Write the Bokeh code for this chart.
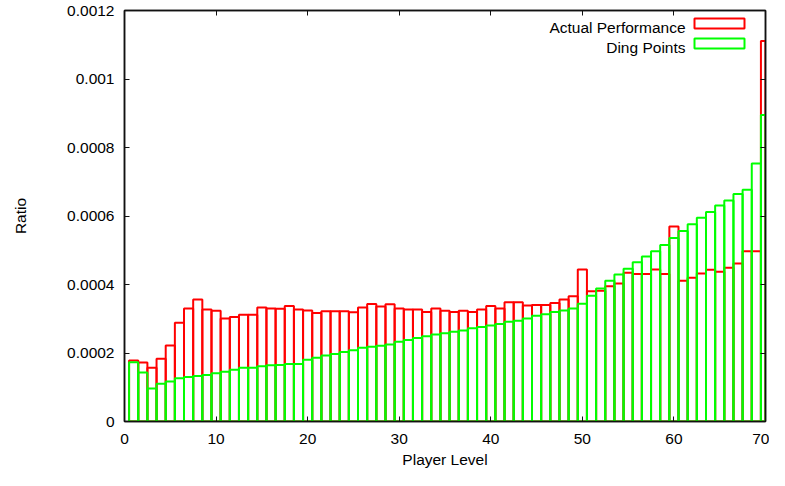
from bokeh.plotting import figure
from bokeh.models import (Range1d, LinearAxis, FixedTicker, CustomJSTickFormatter,
                          BoxAnnotation, Label, ColumnDataSource)
from bokeh.embed import file_html
from bokeh.resources import INLINE

# ---- data ----
levels = list(range(1, 71))
actual = [
    0.000178, 0.000172, 0.000157, 0.000183, 0.000222, 0.000288, 0.000330, 0.000356, 0.000327, 0.000323,
    0.000301, 0.000305, 0.000312, 0.000312, 0.000333, 0.000330, 0.000329, 0.000337, 0.000327, 0.000324,
    0.000317, 0.000322, 0.000322, 0.000322, 0.000319, 0.000333, 0.000343, 0.000336, 0.000342, 0.000330,
    0.000327, 0.000327, 0.000320, 0.000330, 0.000323, 0.000320, 0.000323, 0.000320, 0.000327, 0.000337,
    0.000330, 0.000348, 0.000348, 0.000339, 0.000340, 0.000340, 0.000346, 0.000356, 0.000366, 0.000444,
    0.000380, 0.000382, 0.000395, 0.000403, 0.000434, 0.000431, 0.000431, 0.000444, 0.000431, 0.000569,
    0.000411, 0.000420, 0.000432, 0.000443, 0.000437, 0.000449, 0.000461, 0.000497, 0.000497, 0.001111,
]
ding = [
    0.000173, 0.000143, 0.000096, 0.000110, 0.000117, 0.000126, 0.000130, 0.000133, 0.000136, 0.000141,
    0.000145, 0.000151, 0.000157, 0.000157, 0.000161, 0.000164, 0.000165, 0.000168, 0.000168, 0.000180,
    0.000186, 0.000193, 0.000197, 0.000203, 0.000208, 0.000215, 0.000218, 0.000221, 0.000225, 0.000233,
    0.000238, 0.000244, 0.000249, 0.000254, 0.000258, 0.000262, 0.000266, 0.000272, 0.000276, 0.000280,
    0.000285, 0.000291, 0.000294, 0.000301, 0.000309, 0.000313, 0.000320, 0.000324, 0.000330, 0.000344,
    0.000367, 0.000388, 0.000411, 0.000429, 0.000446, 0.000465, 0.000482, 0.000497, 0.000515, 0.000536,
    0.000556, 0.000576, 0.000595, 0.000612, 0.000631, 0.000645, 0.000664, 0.000677, 0.000753, 0.000895,
]
x_ticks = [0, 10, 20, 30, 40, 50, 60, 70]
y_ticks = [0, 0.0002, 0.0004, 0.0006, 0.0008, 0.001, 0.0012]
series_names = ["Actual Performance", "Ding Points"]

# ---- style ----
FONT = "Liberation Sans"
FSIZE = "15.5px"
RED = "#ff0000"
GREEN = "#00ff00"
FRAME = "#111111"

source = ColumnDataSource(dict(level=levels, actual=actual, ding=ding))

p = figure(width=769, height=470,
           x_range=Range1d(0, 70), y_range=Range1d(0, 0.0012),
           output_backend="svg", toolbar_location=None,
           min_border_left=124, min_border_right=4,
           min_border_top=10, min_border_bottom=48,
           x_axis_label="Player Level", y_axis_label="Ratio")
p.xgrid.visible = False
p.ygrid.visible = False
p.outline_line_color = FRAME
p.outline_line_width = 1.5
p.background_fill_color = "white"
p.border_fill_color = "white"

p.vbar(x="level", width=1, top="actual", bottom=0, source=source,
       fill_color=None, line_color=RED, line_width=2)
p.vbar(x="level", width=1, top="ding", bottom=0, source=source,
       fill_color=None, line_color=GREEN, line_width=2)

fmt = CustomJSTickFormatter(code="return String(Number(tick.toPrecision(4)));")

def style_axis(ax, ticks, labels=True):
    ax.ticker = FixedTicker(ticks=ticks)
    ax.major_tick_in = 5
    ax.major_tick_out = 0
    ax.minor_tick_in = 0
    ax.minor_tick_out = 0
    ax.axis_line_color = FRAME
    ax.axis_line_width = 1.5
    ax.major_tick_line_color = FRAME
    ax.major_tick_line_width = 1
    ax.major_label_text_font = FONT
    ax.axis_label_text_font = FONT
    ax.axis_label_text_font_size = FSIZE
    ax.axis_label_text_font_style = "normal"
    ax.axis_label_text_color = "#000000"
    if labels:
        ax.major_label_text_font_size = FSIZE
        ax.major_label_text_color = "#000000"
        ax.major_label_standoff = 12
    else:
        ax.major_label_text_font_size = "0px"
        ax.major_label_text_color = None
        ax.major_label_standoff = 0

xa = p.xaxis[0]
style_axis(xa, x_ticks)
xa.axis_label_standoff = 4
ya = p.yaxis[0]
style_axis(ya, y_ticks)
ya.major_label_standoff = 10
ya.formatter = fmt
ya.axis_label_standoff = 35

top_ax = LinearAxis()
style_axis(top_ax, x_ticks, labels=False)
p.add_layout(top_ax, "above")
right_ax = LinearAxis()
style_axis(right_ax, y_ticks, labels=False)
p.add_layout(right_ax, "right")

# ---- legend (gnuplot style: text left, sample box right) ----
legend_colors = [RED, GREEN]
for i, (name, col) in enumerate(zip(series_names, legend_colors)):
    yc = 27 + 20 * i
    p.add_layout(Label(x=685, y=yc, x_units="canvas", y_units="canvas", text=name,
                       text_align="right", text_baseline="middle",
                       text_font=FONT, text_font_size=FSIZE, text_color="#000000"))
    p.add_layout(BoxAnnotation(left=694, right=744, top=yc - 9, bottom=yc + 1,
                               left_units="canvas", right_units="canvas",
                               top_units="canvas", bottom_units="canvas",
                               fill_color=None, fill_alpha=0,
                               line_color=col, line_alpha=1.0, line_width=2))

open("out.html", "w").write(file_html(p, INLINE))
